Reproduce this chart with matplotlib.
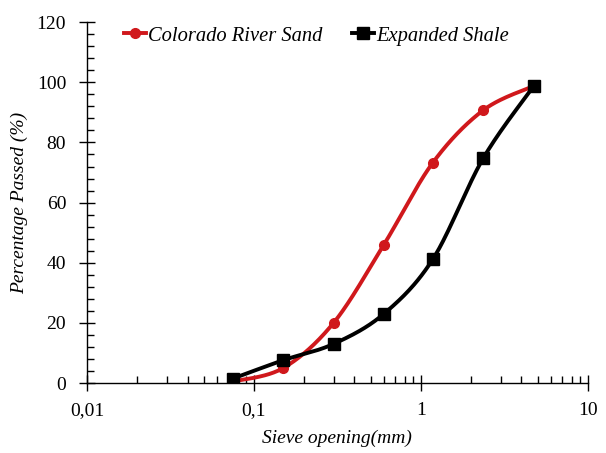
import numpy as np
import matplotlib
matplotlib.use("Agg")
import matplotlib.pyplot as plt
from matplotlib.ticker import FixedLocator, MultipleLocator

sieve = [0.075, 0.15, 0.3, 0.6, 1.18, 2.36, 4.75]
sand = [0.5, 5.0, 20.0, 46.0, 73.3, 90.7, 98.8]
shale = [1.5, 7.6, 13.0, 23.0, 41.2, 74.7, 98.8]
xticklabels = ["0,01", "0,1", "1", "10"]
series_names = ["Colorado River Sand", "Expanded Shale"]

plt.rcParams['font.family'] = ['Liberation Serif', 'DejaVu Serif']

fig = plt.figure(figsize=(6.06, 4.53), dpi=100)
ax = fig.add_axes([0.1436, 0.1545, 0.8264, 0.7965])
ax.set_xscale('log')
ax.set_xlim(0.01, 10)
ax.set_ylim(0, 120)

W = 0.8264 * 606
H = 0.7965 * 453


def smooth(xs, ys, n=40):
    # Catmull-Rom spline in screen-proportional coordinates
    u = (np.log10(xs) + 2) / 3 * W
    v = np.asarray(ys) / 120 * H
    P = np.column_stack([u, v])
    out = []
    for i in range(len(P) - 1):
        p0 = P[i - 1] if i > 0 else P[i]
        p1 = P[i]
        p2 = P[i + 1]
        p3 = P[i + 2] if i + 2 < len(P) else P[i + 1]
        c1 = p1 + (p2 - p0) / 6
        c2 = p2 - (p3 - p1) / 6
        t = np.linspace(0, 1, n)[:, None]
        seg = ((1 - t) ** 3) * p1 + 3 * ((1 - t) ** 2) * t * c1 + 3 * (1 - t) * t ** 2 * c2 + t ** 3 * p2
        out.append(seg if i == 0 else seg[1:])
    S = np.vstack(out)
    xs_s = 10 ** (S[:, 0] / W * 3 - 2)
    ys_s = S[:, 1] / H * 120
    return xs_s, ys_s

red = '#d0181c'
xs, ys = smooth(sieve, sand)
ax.plot(xs, ys, color=red, lw=2.8, zorder=3)
ax.plot(sieve, sand, 'o', color=red, ms=7, zorder=4)
xs, ys = smooth(sieve, shale)
ax.plot(xs, ys, color='black', lw=2.8, zorder=3)
ax.plot(sieve, shale, 's', color='black', ms=8.5, zorder=4)

# legend handles
h1, = ax.plot([], [], '-o', color=red, lw=2.8, ms=7)
h2, = ax.plot([], [], '-s', color='black', lw=2.8, ms=8.5)
leg = ax.legend([h1, h2], series_names, loc='upper center', bbox_to_anchor=(0.458, 1.04), ncol=2,
                frameon=False, handlelength=1.1, handletextpad=0.1, columnspacing=1.4,
                prop={'family': 'Liberation Serif', 'style': 'italic', 'size': 14.8})

for s in ['top', 'right']:
    ax.spines[s].set_visible(False)
for s in ['left', 'bottom']:
    ax.spines[s].set_linewidth(1.0)

ax.xaxis.set_major_locator(FixedLocator([0.01, 0.1, 1, 10]))
ax.set_xticklabels(xticklabels)
minors = [m * 10.0 ** e for e in (-2, -1, 0) for m in range(2, 10)]
ax.xaxis.set_minor_locator(FixedLocator(minors))
ax.xaxis.set_minor_formatter(matplotlib.ticker.NullFormatter())
ax.yaxis.set_major_locator(MultipleLocator(20))
ax.yaxis.set_minor_locator(MultipleLocator(4))

ax.tick_params(axis='x', which='major', direction='inout', length=12, width=1.0,
               labelsize=14, pad=8)
ax.tick_params(axis='y', which='major', direction='inout', length=12, width=1.0,
               labelsize=14, pad=9)
ax.tick_params(axis='both', which='minor', direction='in', length=5, width=1.0)

ax.set_ylabel('Percentage Passed (%)', fontsize=14, style='italic', labelpad=6)
ax.set_xlabel('Sieve opening(mm)', fontsize=14, style='italic')
ax.xaxis.set_label_coords(0.5, -0.128)

fig.savefig('out.png', dpi=100)
